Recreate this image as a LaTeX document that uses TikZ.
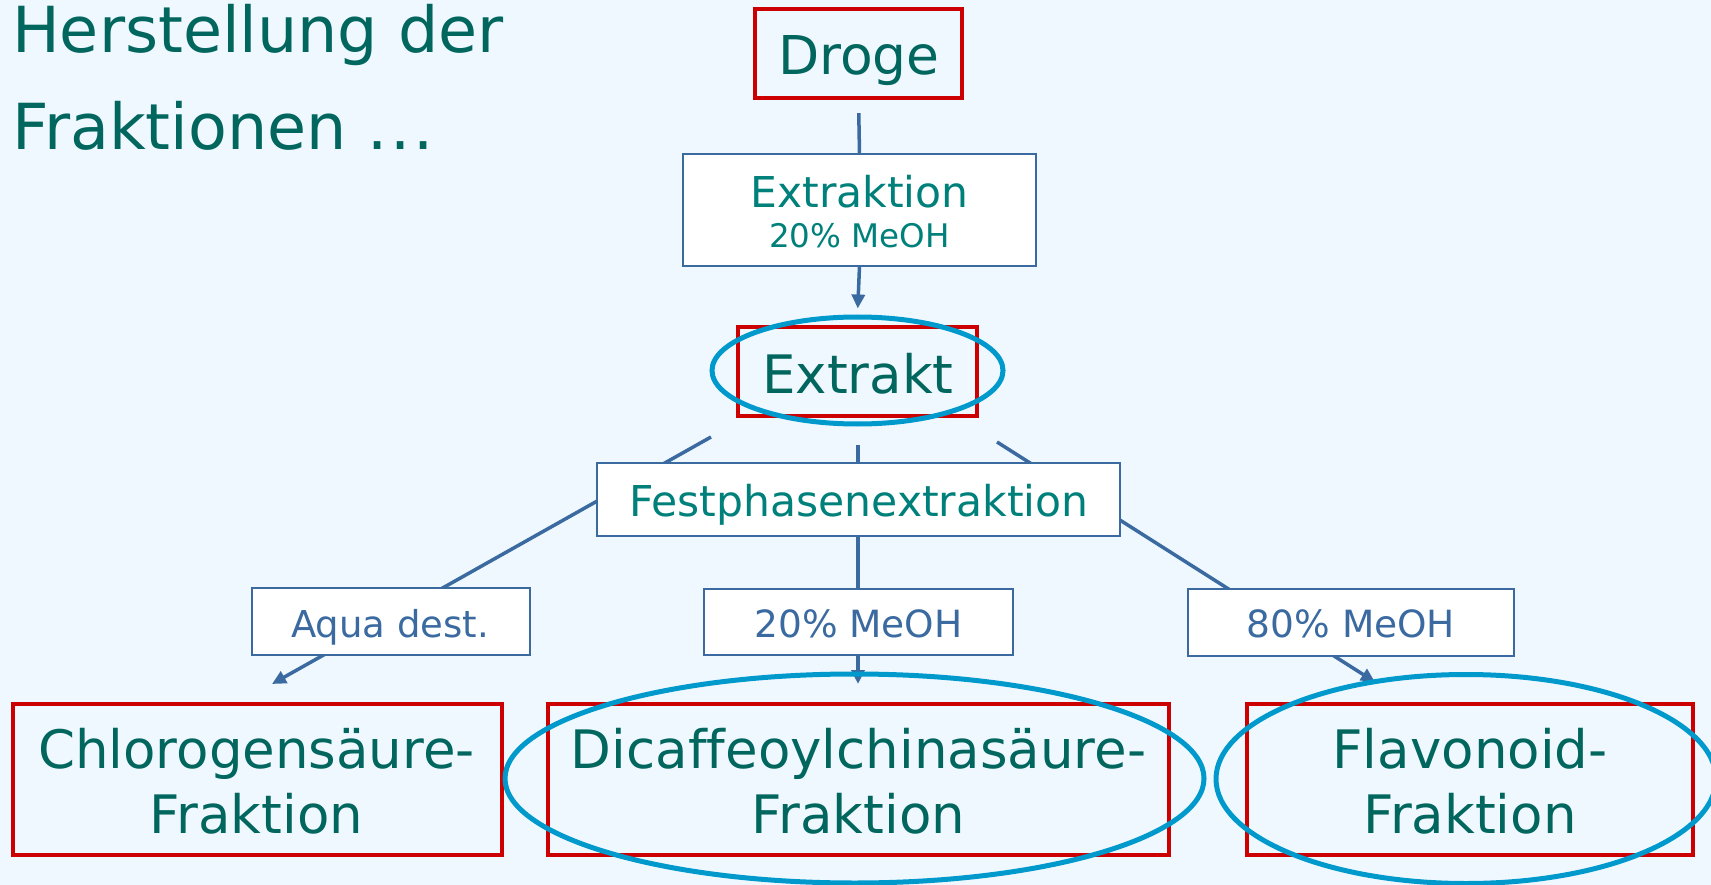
\documentclass[tikz,border=0pt]{standalone}
\usepackage{fontspec}
\setmainfont[Ligatures=NoCommon]{DejaVu Sans}
\usetikzlibrary{arrows.meta,shapes.geometric}
\definecolor{tealdark}{RGB}{0,102,94}
\definecolor{teallight}{RGB}{0,128,122}
\definecolor{lineblue}{RGB}{58,106,160}
\definecolor{boxred}{RGB}{204,0,0}
\definecolor{ellblue}{RGB}{0,153,204}
\definecolor{bgblue}{RGB}{240,248,255}
\newcommand{\fs}[1]{\fontsize{#1}{#1}\selectfont}
\begin{document}
\begin{tikzpicture}[x=1pt,y=-1pt,
  redbox/.style={draw=boxred,line width=4pt,inner sep=0pt},
  bluebox/.style={draw=lineblue,line width=2pt,fill=white,inner sep=0pt},
  hilite/.style={draw=ellblue,line width=5pt,ellipse,inner sep=0pt},
  conn/.style={draw=lineblue,line width=3.5pt},
  arr/.style={conn,-{Triangle[length=14pt,width=13pt]}},
  lbl/.style={anchor=base,inner sep=0pt},
  fraktxt/.style={text=tealdark,font=\fontsize{53}{65}\selectfont,align=center,inner sep=0pt}]
\fill[bgblue] (0,0) rectangle (1711,885);
\useasboundingbox (0,0) rectangle (1711,885);

% title
\node[lbl,anchor=base west,text=tealdark,font=\fs{63.5}] (title1) at (12,53) {Herstellung der};
\node[lbl,anchor=base west,text=tealdark,font=\fs{63.5}] (title2) at (12,150) {Fraktionen .\kern3pt.\kern3pt.};

% box geometry (for connector anchors)
\path (858.5,53.5) node[minimum width=207pt,minimum height=89pt,inner sep=0pt] (droge) {};
\path (859.5,210) node[minimum width=353pt,minimum height=112pt,inner sep=0pt] (extr) {};
\path (857.5,370.5) node[ellipse,minimum width=291pt,minimum height=107pt,inner sep=0pt,outer sep=2.5pt] (extraktell) {};

% connectors
\coordinate (f1s) at (711,437);
\coordinate (f1e) at (272,684);
\coordinate (f2s) at (858,445);
\coordinate (f2e) at (858,684);
\coordinate (f3s) at (997,442);
\coordinate (f3e) at (1375,682);
\draw[conn,shorten <=15pt] (droge.south) -- (extr.north);
\draw[arr,shorten >=6pt] (extr.south) -- (extraktell.north);
\draw[arr] (f1s) -- (f1e);
\draw[arr] (f2s) -- (f2e);
\draw[arr] (f3s) -- (f3e);

% boxes
\node[redbox,minimum width=207pt,minimum height=89pt] (drogebox) at (858.5,53.5) {};
\node[bluebox,minimum width=353pt,minimum height=112pt] (extrbox) at (859.5,210) {};
\node[redbox,minimum width=239pt,minimum height=89pt] (extraktbox) at (857.5,371.5) {};
\node[bluebox,minimum width=523pt,minimum height=73pt] (fpebox) at (858.5,499.5) {};
\node[bluebox,minimum width=278pt,minimum height=67pt] (aqua) at (391,621.5) {};
\node[bluebox,minimum width=309pt,minimum height=66pt] (m20) at (858.5,622) {};
\node[bluebox,minimum width=326pt,minimum height=67pt] (m80) at (1351,622.5) {};
\node[redbox,minimum width=489pt,minimum height=151pt] (chloro) at (257.5,779.5) {};
\node[redbox,minimum width=621pt,minimum height=151pt] (dicaf) at (858.5,779) {};
\node[redbox,minimum width=446pt,minimum height=151pt] (flav) at (1470,779.5) {};

% texts
\node[lbl,text=tealdark,font=\fs{53.5}] (tdroge) at (859,75) {Droge};
\node[lbl,text=teallight,font=\fs{42.5}] (textr) at (859.5,208) {Extraktion};
\node[lbl,text=teallight,font=\fs{32.5}] (textr2) at (859.5,248) {20\% MeOH};
\node[lbl,text=tealdark,font=\fs{53}] (textrakt) at (858,393) {Extrakt};
\node[lbl,text=teallight,font=\fs{42.5}] (tfpe) at (859,516) {Festphasenextraktion};
\node[lbl,text=lineblue,font=\fs{37}] (taqua) at (390,637) {Aqua dest.};
\node[lbl,text=lineblue,font=\fs{37.5}] (tm20) at (858.5,637) {20\% MeOH};
\node[lbl,text=lineblue,font=\fs{37.5}] (tm80) at (1351,637) {80\% MeOH};
\node[fraktxt] (tchloro) at (256.5,781.5) {Chlorogensäure-\\Fraktion};
\node[fraktxt] (tdicaf) at (858.5,781.5) {Dicaf\kern0pt feoylchinasäure-\\Fraktion};
\node[fraktxt] (tflav) at (1470,781.5) {Flavonoid-\\Fraktion};

% highlight ellipses
\node[hilite,minimum width=291pt,minimum height=107pt] (e1) at (857.5,370.5) {};
\node[hilite,minimum width=699pt,minimum height=209pt] (e2) at (854.5,778.5) {};
\node[hilite,minimum width=500pt,minimum height=209pt] (e3) at (1466,779) {};
\end{tikzpicture}
\end{document}
